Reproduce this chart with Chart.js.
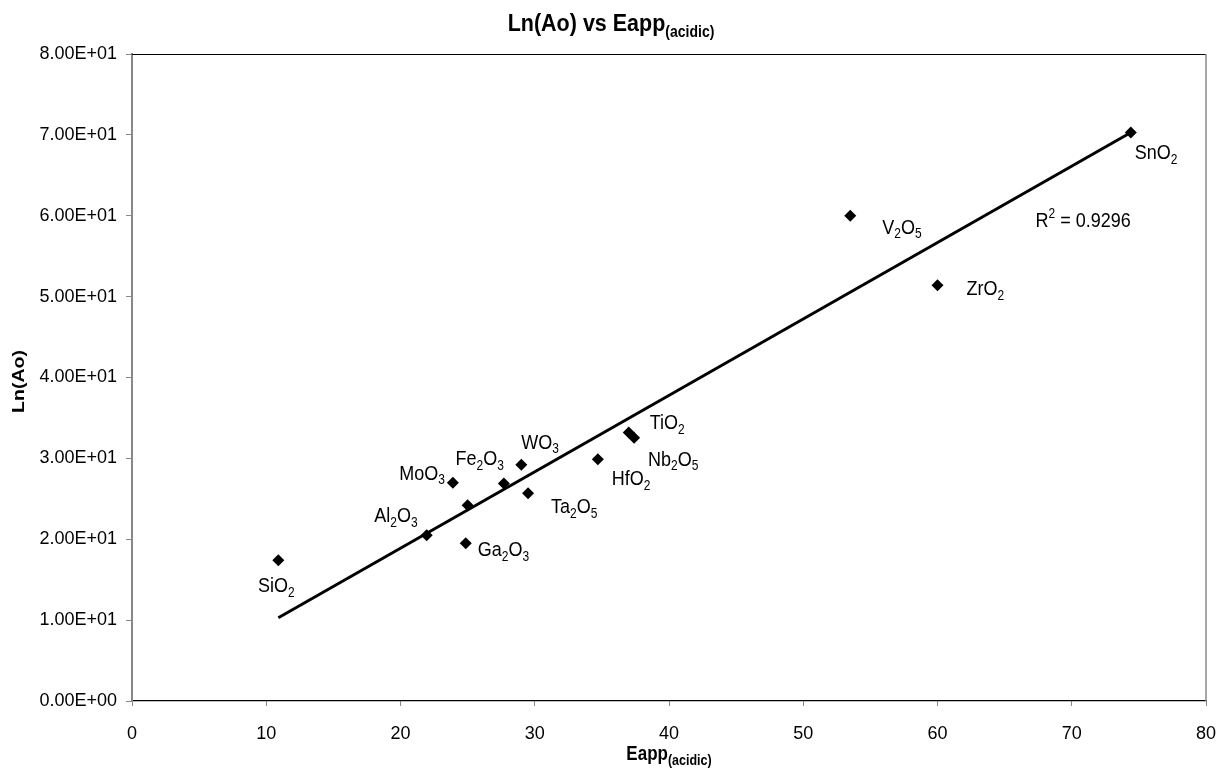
<!DOCTYPE html>
<html>
<head>
<meta charset="utf-8">
<script src="https://cdn.jsdelivr.net/npm/chart.js@4.4.0/dist/chart.umd.min.js"></script>
<style>
  body { margin: 0; background: #fff; }
  #wrap { width: 1217px; height: 775px; position: relative; }
</style>
</head>
<body>
<div id="wrap"><canvas id="chart"></canvas></div>
<script>
// values
const oxides = ['SiO2', 'Al2O3', 'Ga2O3', '', 'MoO3', 'Fe2O3', 'WO3', 'Ta2O5', 'HfO2', 'TiO2', 'Nb2O5', 'V2O5', 'ZrO2', 'SnO2'];
const eapp   = [10.9, 21.95, 24.86, 25.0, 23.9, 27.7, 29.0, 29.5, 34.7, 37.0, 37.4, 53.5, 60.0, 74.4];
const lnAo   = [17.4, 20.5, 19.5, 24.2, 27.0, 26.9, 29.2, 25.7, 29.9, 33.2, 32.55, 60.0, 51.4, 70.3];
const trendX = [10.9, 74.4];
const trendY = [10.3, 70.3];
const xTicks = [0, 10, 20, 30, 40, 50, 60, 70, 80];
const yTicks = [0, 10, 20, 30, 40, 50, 60, 70, 80];

// label placement (pixels from the point, baseline)
const labelPos = [
  [-2, 32, 'center'], [-9, -13, 'right'], [12, 13, 'left'], [0, 0, 'left'],
  [-8, -3, 'right'], [0, -18, 'right'], [0, -16, 'left'], [23, 20, 'left'],
  [14, 26, 'left'], [21, -3, 'left'], [14, 28, 'left'], [32, 18, 'left'],
  [29, 10, 'left'], [4, 27, 'left']
];

const FONT = '"Liberation Sans", Arial, sans-serif';
const STRETCH = 1.15;

function sci(v) {
  if (v === 0) return '0.00E+00';
  const e = Math.floor(Math.log10(Math.abs(v)));
  const m = v / Math.pow(10, e);
  return m.toFixed(2) + 'E' + (e < 0 ? '-' : '+') + String(Math.abs(e)).padStart(2, '0');
}

// split "Al2O3" into normal text and subscript digits
function formulaParts(s) {
  const parts = [];
  const re = /(\d+)|(\D+)/g;
  let m;
  while ((m = re.exec(s)) !== null) {
    parts.push({ t: m[0], sub: !!m[1] });
  }
  return parts;
}

function drawRich(ctx, x, y, parts, align, mainFont, subFont, subDrop) {
  ctx.save();
  let w = 0;
  parts.forEach(p => {
    ctx.font = p.sub ? subFont : mainFont;
    p.w = ctx.measureText(p.t).width;
    w += p.w;
  });
  let start = 0;
  if (align === 'center') start = -w / 2;
  else if (align === 'right') start = -w;
  ctx.translate(x, y);
  ctx.scale(1, STRETCH);
  ctx.textAlign = 'left';
  ctx.textBaseline = 'alphabetic';
  ctx.fillStyle = '#000';
  let cx = start;
  parts.forEach(p => {
    ctx.font = p.sub ? subFont : mainFont;
    ctx.fillText(p.t, cx, p.sub ? subDrop : 0);
    cx += p.w;
  });
  ctx.restore();
}

const extras = {
  id: 'extras',
  afterDraw(chart) {
    const ctx = chart.ctx;
    const a = chart.chartArea;
    const xs = chart.scales.x, ys = chart.scales.y;

    // frame: top black, right grey
    ctx.save();
    ctx.strokeStyle = '#000';
    ctx.lineWidth = 1.2;
    ctx.beginPath();
    ctx.moveTo(a.left, a.top + 0.5);
    ctx.lineTo(a.right, a.top + 0.5);
    ctx.stroke();
    ctx.strokeStyle = '#888';
    ctx.lineWidth = 1.5;
    ctx.beginPath();
    ctx.moveTo(a.right, a.top);
    ctx.lineTo(a.right, a.bottom);
    ctx.stroke();
    ctx.restore();

    // point labels
    const mainF = '18px ' + FONT, subF = '12px ' + FONT;
    oxides.forEach((name, i) => {
      if (!name) return;
      const px = xs.getPixelForValue(eapp[i]);
      const py = ys.getPixelForValue(lnAo[i]);
      const p = labelPos[i];
      drawRich(ctx, px + p[0], py + p[1], formulaParts(name), p[2], mainF, subF, 4);
    });

    // R squared
    ctx.save();
    const rx = xs.getPixelForValue(67.3), ry = ys.getPixelForValue(59.5) + 7;
    ctx.translate(rx, ry);
    ctx.scale(1, STRETCH);
    ctx.fillStyle = '#000';
    ctx.textAlign = 'left';
    ctx.font = mainF;
    ctx.fillText('R', 0, 0);
    let off = ctx.measureText('R').width;
    ctx.font = subF;
    ctx.fillText('2', off, -8);
    off += ctx.measureText('2').width;
    ctx.font = mainF;
    ctx.fillText(' = 0.9296', off, 0);
    ctx.restore();

    // chart title
    drawRich(ctx, 611, 31, [{ t: 'Ln(Ao) vs Eapp', sub: false }, { t: '(acidic)', sub: true }],
      'center', 'bold 21.5px ' + FONT, 'bold 14px ' + FONT, 5);

    // x axis title
    drawRich(ctx, (a.left + a.right) / 2, 760, [{ t: 'Eapp', sub: false }, { t: '(acidic)', sub: true }],
      'center', 'bold 17px ' + FONT, 'bold 12.5px ' + FONT, 4);

    // y axis title
    ctx.save();
    ctx.translate(24, (a.top + a.bottom) / 2 + 4);
    ctx.scale(1, STRETCH);
    ctx.rotate(-Math.PI / 2);
    ctx.font = 'bold 17px ' + FONT;
    ctx.fillStyle = '#000';
    ctx.textAlign = 'center';
    ctx.textBaseline = 'alphabetic';
    ctx.fillText('Ln(Ao)', 0, 0);
    ctx.restore();
  }
};

const points = eapp.map((x, i) => ({ x: x, y: lnAo[i] }));
const trend = trendX.map((x, i) => ({ x: x, y: trendY[i] }));

new Chart(document.getElementById('chart'), {
  type: 'scatter',
  data: {
    datasets: [
      {
        label: 'Trend',
        data: trend,
        showLine: true,
        borderColor: '#000',
        borderWidth: 3,
        pointRadius: 0,
        order: 2
      },
      {
        label: 'Ln(Ao)',
        data: points,
        pointStyle: 'rectRot',
        pointRadius: 6,
        backgroundColor: '#000',
        borderColor: '#000',
        borderWidth: 0,
        order: 1
      }
    ]
  },
  options: {
    responsive: true,
    maintainAspectRatio: false,
    animation: false,
    layout: { padding: { top: 54, right: 11, left: 0, bottom: 0 } },
    plugins: {
      legend: { display: false },
      title: { display: false },
      tooltip: { enabled: false }
    },
    scales: {
      x: {
        type: 'linear',
        min: 0, max: 80,
        afterBuildTicks: s => { s.ticks = xTicks.map(v => ({ value: v })); },
        afterFit: s => { s.height = 74; s.paddingLeft = 0; s.paddingRight = 0; },
        ticks: { color: '#000', font: { family: FONT, size: 18 }, padding: 17, maxRotation: 0 },
        grid: { drawOnChartArea: false, drawTicks: true, tickLength: 5, color: '#888' },
        border: { display: true, color: '#000', width: 1.2 }
      },
      y: {
        min: 0, max: 80,
        afterBuildTicks: s => { s.ticks = yTicks.map(v => ({ value: v })); },
        afterFit: s => { s.width = 132; s.paddingTop = 0; s.paddingBottom = 0; },
        ticks: { color: '#000', font: { family: FONT, size: 18 }, padding: 9, callback: v => sci(v) },
        grid: { drawOnChartArea: false, drawTicks: true, tickLength: 6, color: '#888' },
        border: { display: true, color: '#888', width: 2 }
      }
    }
  },
  plugins: [extras]
});
</script>
</body>
</html>
